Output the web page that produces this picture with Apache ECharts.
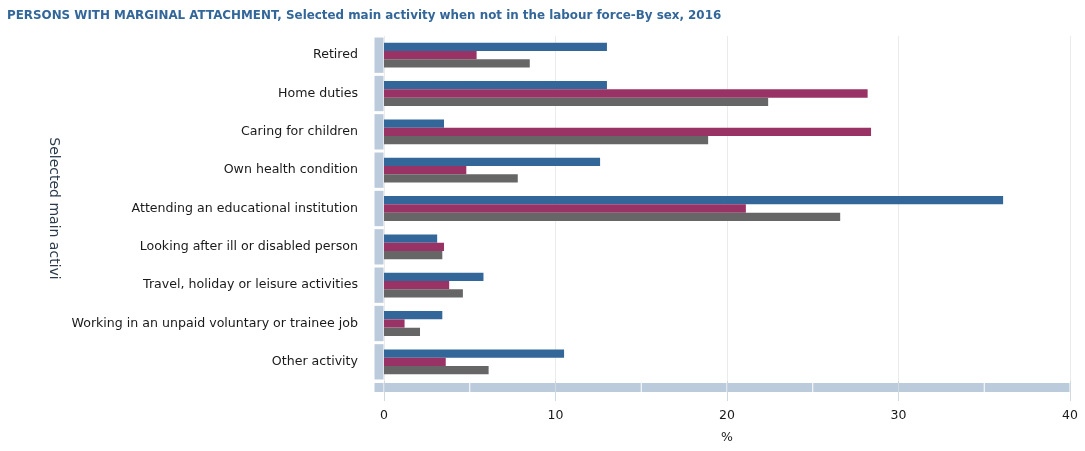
<!DOCTYPE html>
<html>
<head>
<meta charset="utf-8">
<script src="https://cdn.jsdelivr.net/npm/echarts@6/dist/echarts.min.js"></script>
<style>html,body{margin:0;padding:0;background:#fff;}#c{width:1085px;height:451px;}</style>
</head>
<body>
<div id="c"></div>
<script>
var titleText = 'PERSONS WITH MARGINAL ATTACHMENT, Selected main activity when not in the labour force-By sex, 2016';
var categories = ['Retired','Home duties','Caring for children','Own health condition','Attending an educational institution','Looking after ill or disabled person','Travel, holiday or leisure activities','Working in an unpaid voluntary or trainee job','Other activity'];
var males   = [13.0, 13.0, 3.5, 12.6, 36.1, 3.1, 5.8, 3.4, 10.5];
var females = [5.4, 28.2, 28.4, 4.8, 21.1, 3.5, 3.8, 1.2, 3.6];
var persons = [8.5, 22.4, 18.9, 7.8, 26.6, 3.4, 4.6, 2.1, 6.1];
var xTicks = [0, 10, 20, 30, 40];
var bandSteps = [[0,5],[5,10],[10,15],[15,20],[20,25],[25,30],[30,35],[35,40]];

var bandColor = '#bccbdc';
var chart = echarts.init(document.getElementById('c'));
var font = '"DejaVu Sans", Verdana, sans-serif';

function bar(name, data, color) {
  return {name: name, type: 'bar', data: data, barWidth: 8.3, barGap: '0%',
    itemStyle: {color: color}, silent: true, z: 3};
}

chart.setOption({
  animation: false,
  textStyle: {fontFamily: font},
  title: {text: titleText, left: 7, top: 10, padding: 0,
    textStyle: {fontFamily: font, fontSize: 11.9, fontWeight: 'bold', color: '#336699'}},
  grid: {left: 384, right: 15, top: 36, bottom: 70, containLabel: false},
  xAxis: {type: 'value', min: 0, max: 40, interval: 10,
    name: '%', nameLocation: 'middle', nameGap: 50,
    nameTextStyle: {fontSize: 12.5, color: '#1a1a1a', fontFamily: font},
    axisLine: {show: false},
    axisTick: {show: true, length: 20, lineStyle: {color: '#d0d8e0'}},
    axisLabel: {margin: 28, fontSize: 12.5, color: '#1a1a1a', fontFamily: font},
    splitLine: {show: true, lineStyle: {color: '#ebebeb'}}},
  yAxis: {type: 'category', data: categories, inverse: true,
    name: 'Selected main activi', nameLocation: 'middle', nameGap: 320, nameRotate: -90,
    nameTextStyle: {fontSize: 14, color: '#2b3b4b', fontFamily: font},
    axisLine: {show: false}, axisTick: {show: false},
    axisLabel: {margin: 26, fontSize: 12.6, color: '#1a1a1a', fontFamily: font},
    splitLine: {show: false}},
  series: [
    bar('Males', males, '#336699'),
    bar('Females', females, '#993366'),
    bar('Persons', persons, '#666666'),
    {type: 'custom', silent: true, clip: false, z: 1,
      data: categories.map(function(c, i){ return [0, i]; }),
      renderItem: function(params, api) {
        var p = api.coord([0, api.value(1)]);
        var h = api.size([0, 1])[1];
        return {type: 'rect', shape: {x: p[0] - 9.5, y: p[1] - h/2 + 1.5, width: 9, height: h - 3},
          style: {fill: bandColor}};
      }},
    {type: 'custom', silent: true, clip: false, z: 1,
      data: bandSteps,
      encode: {x: [0, 1]},
      renderItem: function(params, api) {
        var a = api.coord([api.value(0), 0])[0];
        var b = api.coord([api.value(1), 0])[0];
        var cs = params.coordSys;
        var y = cs.y + cs.height + 2;
        var children = [{type: 'rect', shape: {x: a + 0.5, y: y, width: b - a - 1, height: 9}, style: {fill: bandColor}}];
        if (params.dataIndex === 0) {
          children.push({type: 'rect', shape: {x: a - 9.5, y: y, width: 9, height: 9}, style: {fill: bandColor}});
        }
        return {type: 'group', children: children};
      }}
  ]
});
</script>
</body>
</html>
